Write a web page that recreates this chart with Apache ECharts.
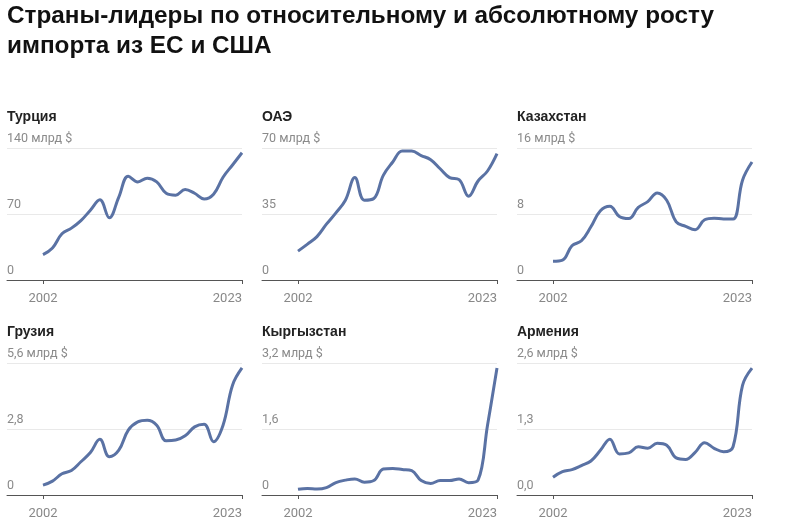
<!DOCTYPE html>
<html>
<head>
<meta charset="utf-8">
<script src="https://cdn.jsdelivr.net/npm/echarts@6/dist/echarts.min.js"></script>
<style>
html,body{margin:0;padding:0;background:#fff;}
#chart{width:800px;height:526px;}
</style>
</head>
<body>
<div id="chart"></div>
<script>
const years = [2002,2003,2004,2005,2006,2007,2008,2009,2010,2011,2012,2013,2014,2015,2016,2017,2018,2019,2020,2021,2022,2023];
const xTickYears = [2002, 2023];

const countries = ["Турция", "ОАЭ", "Казахстан", "Грузия", "Кыргызстан", "Армения"];
const turkey     = [27,34,49,55,63,74,85,66,88,110,104,108,104,92,90,96,92,86,91,109,122,135];
const uae        = [15.3,19,23,29.6,35.6,42.3,54.3,42.3,43.2,55.5,62.6,68.4,68.4,66,63.8,59,54.3,53.2,44.4,52.5,57.8,67];
const kazakhstan = [2.26,2.4,4.15,4.75,6.45,8.4,8.95,7.7,7.45,8.8,9.5,10.55,9.67,7.05,6.5,6.1,7.3,7.5,7.4,7.4,12.1,14.3];
const georgia    = [0.42,0.59,0.9,1.04,1.41,1.8,2.36,1.62,1.9,2.75,3.1,3.17,2.96,2.3,2.33,2.51,2.89,3.0,2.26,2.96,4.66,5.39];
const kyrgyzstan = [0.137,0.16,0.145,0.18,0.3,0.36,0.39,0.31,0.35,0.63,0.645,0.62,0.59,0.35,0.28,0.35,0.35,0.39,0.3,0.36,1.69,3.08];
const armenia    = [0.35,0.46,0.5,0.58,0.67,0.88,1.1,0.81,0.83,0.95,0.92,1.02,0.98,0.73,0.7,0.84,1.03,0.92,0.85,0.95,2.16,2.5];
const seriesValues = [turkey, uae, kazakhstan, georgia, kyrgyzstan, armenia];

const yMax = [140, 70, 16, 5.6, 3.2, 2.6];
const yTickLabels = [
  ["0", "70", "140 млрд $"],
  ["0", "35", "70 млрд $"],
  ["0", "8", "16 млрд $"],
  ["0", "2,8", "5,6 млрд $"],
  ["0", "1,6", "3,2 млрд $"],
  ["0,0", "1,3", "2,6 млрд $"]
];

const mainTitle = "Страны-лидеры по относительному и абсолютному росту\nимпорта из ЕС и США";

const chart = echarts.init(document.getElementById('chart'), null, {renderer: 'canvas'});

const colLeft = [7, 262, 517];
const plotW = 235;
const rowTop = [148, 363];
const plotH = 132;
const yearPx = 43 - 7;            // px from grid left to first year
const pxPerYear = (plotW - yearPx) / 21;
const xMin = 2002 - yearPx / pxPerYear;

const grids = [], xAxes = [], yAxes = [], series = [], titles = [];
titles.push({
  text: mainTitle, left: 7, top: 1, padding: 0,
  textStyle: {fontFamily: 'Liberation Sans, Arial, sans-serif', fontSize: 24.3, fontWeight: 'bold', color: '#111', lineHeight: 30}
});
countries.forEach((name, i) => {
  const c = i % 3, r = Math.floor(i / 3);
  const left = colLeft[c], top = rowTop[r];
  grids.push({left: left, top: top, width: plotW, height: plotH, containLabel: false});
  titles.push({
    text: name, left: left, top: top - 38, padding: 0,
    textStyle: {fontFamily: 'Liberation Sans, Arial, sans-serif', fontSize: 14, fontWeight: 'bold', color: '#222'}
  });
  const labels = yTickLabels[i];
  const mx = yMax[i];
  xAxes.push({
    type: 'value', gridIndex: i, min: xMin, max: 2023,
    axisLine: {show: true, onZero: false, lineStyle: {color: '#555', width: 1}},
    axisTick: {show: true, length: 4, customValues: xTickYears, lineStyle: {color: '#555', width: 1}},
    axisLabel: {show: true, customValues: xTickYears, formatter: v => String(Math.round(v)),
      color: '#888', fontSize: 13, fontFamily: 'Roboto, sans-serif', margin: 12,
      alignMaxLabel: 'right'},
    splitLine: {show: false}
  });
  yAxes.push({
    type: 'value', gridIndex: i, min: 0, max: mx, interval: mx / 2,
    axisLine: {show: false}, axisTick: {show: false},
    axisLabel: {
      inside: true, margin: 0, align: 'left', verticalAlign: 'bottom',
      padding: [0, 0, 3, 0],
      color: '#8a8a8a', fontSize: 12.5, fontFamily: 'Roboto, sans-serif',
      formatter: (v) => {
        const k = Math.round(v / (mx / 2));
        return labels[k] !== undefined ? labels[k] : '';
      }
    },
    splitLine: {show: true, lineStyle: {color: '#e9e9e9', width: 1}}
  });
  series.push({
    type: 'line', xAxisIndex: i, yAxisIndex: i,
    data: years.map((y, k) => [y, seriesValues[i][k]]),
    smooth: 0.4, showSymbol: false, symbol: 'none',
    lineStyle: {color: '#5a72a4', width: 3},
    animation: false
  });
});

chart.setOption({
  animation: false,
  backgroundColor: '#fff',
  title: titles,
  grid: grids,
  xAxis: xAxes,
  yAxis: yAxes,
  series: series
});
</script>
</body>
</html>
